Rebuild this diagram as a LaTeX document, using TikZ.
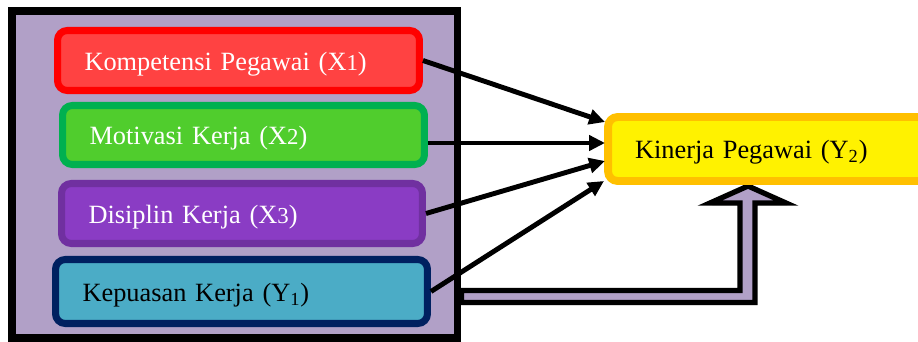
\documentclass[tikz,border=0pt]{standalone}
\usepackage{fontspec}
\setmainfont{Liberation Serif}
\usetikzlibrary{arrows.meta,shadows}
\definecolor{lavender}{HTML}{B1A0C7}
\definecolor{redfill}{HTML}{FF4242}
\definecolor{greenfill}{HTML}{50CD2D}
\definecolor{greenline}{HTML}{00B050}
\definecolor{violetfill}{HTML}{8A3CC4}
\definecolor{violetline}{HTML}{7030A0}
\definecolor{bluefill}{HTML}{4BACC6}
\definecolor{navyline}{HTML}{002060}
\definecolor{orangeline}{HTML}{FFC000}
\begin{document}
\begin{tikzpicture}[x=0.02cm,y=-0.02cm,
  varbox/.style={draw, line width=4pt, rounded corners=5.5pt, inner xsep=0.54cm, inner ysep=0pt,
    align=left, font=\fontsize{15}{18}\selectfont, text height=11.25pt, text depth=0pt,
    minimum height=1.2cm, drop shadow={shadow xshift=0.8pt, shadow yshift=-1.2pt, opacity=0.3}},
  arr/.style={line width=2.8pt, -{Triangle[length=9pt,width=8.5pt]}},
  hollow/.style={draw=black, fill=lavender, line width=3pt, line join=miter,
    drop shadow={shadow xshift=1pt, shadow yshift=-1.5pt, opacity=0.3}}]
\useasboundingbox (0,0) rectangle (918,341);
\node[draw, fill=lavender, line width=4.5pt, minimum width=8.91cm, minimum height=6.54cm] (frame) at (234.75,174.5) {};
\draw[hollow] (frame.east |- 0,290.5) -- (740,290.5) -- (740,203) -- (710,203) -- (748,186) -- (786,203)
  -- (755,203) -- (755,302.5) -- (frame.east |- 0,302.5) -- cycle;
\node[varbox, fill=redfill, draw=red, text=white, text width=6.16cm] (kompetensi) at (238.5,60.5)
  {Kompetensi Pegawai (X{\fontsize{13}{15}\selectfont 1})};
\node[varbox, fill=greenfill, draw=greenline, text=white, text width=6.16cm, minimum height=1.18cm] (motivasi) at (243.5,135)
  {Motivasi Kerja (X{\fontsize{13}{15}\selectfont 2})};
\node[varbox, fill=violetfill, draw=violetline, text=white, text width=6.14cm] (disiplin) at (242,213.5)
  {Disiplin Kerja (X{\fontsize{13}{15}\selectfont 3})};
\node[varbox, fill=bluefill, draw=navyline, text=black, text width=6.36cm, minimum height=1.28cm] (kepuasan) at (241.5,291.5)
  {Kepuasan Kerja (Y\textsubscript{1})};
\node[varbox, fill=yellow, draw=orangeline, text=black, text width=5.96cm, minimum height=1.28cm, line width=4.5pt, drop shadow={opacity=0}] (kinerja) at (784,149)
  {Kinerja Pegawai (Y\textsubscript{2})};
\coordinate (t1) at (605,122);
\coordinate (t2) at (605,143);
\coordinate (t3) at (605,161);
\coordinate (t4) at (604,181);
\draw[arr] (kompetensi.east) -- (t1);
\draw[arr] (motivasi.east |- t2) -- (t2);
\draw[arr] (disiplin.east) -- (t3);
\draw[arr] (kepuasan.east) -- (t4);
\end{tikzpicture}
\end{document}
